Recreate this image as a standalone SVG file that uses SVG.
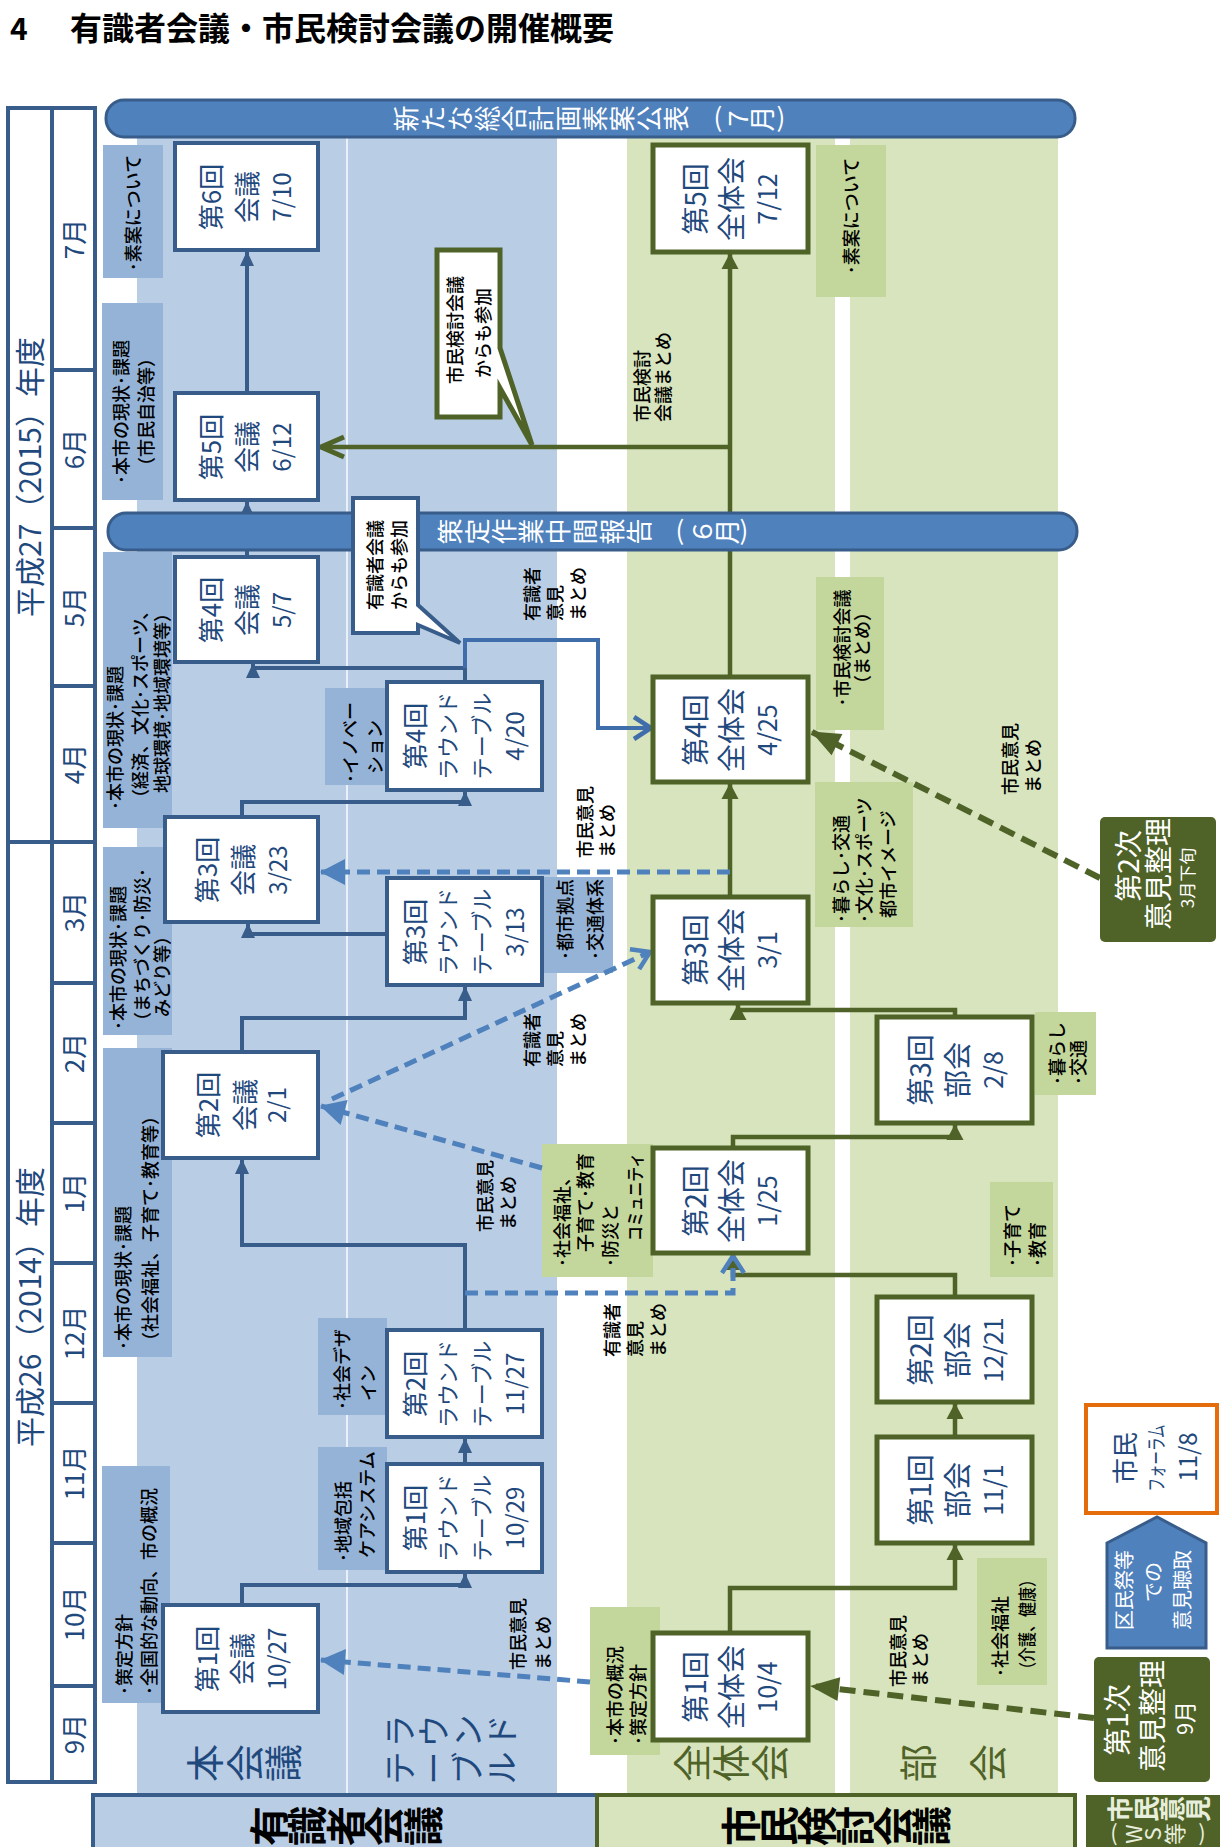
<svg xmlns="http://www.w3.org/2000/svg" width="1220" height="1847" viewBox="0 0 1220 1847">
<defs>
<style>
text{font-family:"Noto Sans CJK JP","Noto Sans",sans-serif;}
.nb{fill:#fff;stroke:#385D8A;stroke-width:4}
.ng{fill:#fff;stroke:#4F6228;stroke-width:5}
.tb{fill:#95B3D7}
.tg{fill:#C3D69B}
.nt{fill:#1F497D;font-size:26px;text-anchor:middle}
.zt{fill:#1F497D;font-size:28px;text-anchor:middle}
.lab{fill:#000;font-size:18px;font-weight:500}
.mid{text-anchor:middle}
.end{text-anchor:end}
.sb{fill:none;stroke:#385D8A;stroke-width:4}
.so{fill:none;stroke:#4F6228;stroke-width:4.5}
.db{fill:none;stroke:#4F81BD;stroke-width:5;stroke-dasharray:13 7}
.do{fill:none;stroke:#4F6228;stroke-width:6;stroke-dasharray:16 8}
.bar{fill:#4F81BD;stroke:#385D8A;stroke-width:3}
.wt{fill:#fff}
.yl{fill:none;stroke:#385D8A;stroke-width:4}
</style>
<marker id="aB" markerUnits="userSpaceOnUse" markerWidth="16" markerHeight="16" refX="14" refY="8" orient="auto" overflow="visible"><path d="M0,1 L15,8 L0,15 Z" fill="#385D8A"/></marker>
<marker id="aO" markerUnits="userSpaceOnUse" markerWidth="17" markerHeight="18" refX="15" refY="9" orient="auto" overflow="visible"><path d="M0,0.5 L16,9 L0,17.5 Z" fill="#4F6228"/></marker>
<marker id="tB" markerUnits="userSpaceOnUse" markerWidth="26" markerHeight="26" refX="24" refY="13" orient="auto" overflow="visible"><path d="M0,0 L25,13 L0,26 Z" fill="#4F81BD"/></marker>
<marker id="tO" markerUnits="userSpaceOnUse" markerWidth="30" markerHeight="26" refX="28" refY="13" orient="auto" overflow="visible"><path d="M0,1 L29,13 L0,25 Z" fill="#4F6228"/></marker>
<marker id="cB" markerUnits="userSpaceOnUse" markerWidth="24" markerHeight="26" refX="20" refY="13" orient="auto" overflow="visible"><path d="M3,2 L20,13 L3,24" fill="none" stroke="#4F81BD" stroke-width="4.5"/></marker>
<marker id="cB2" markerUnits="userSpaceOnUse" markerWidth="24" markerHeight="26" refX="20" refY="13" orient="auto" overflow="visible"><path d="M3,2 L20,13 L3,24" fill="none" stroke="#3F6EAA" stroke-width="4.5"/></marker>
<marker id="cO" markerUnits="userSpaceOnUse" markerWidth="30" markerHeight="26" refX="26" refY="13" orient="auto" overflow="visible"><path d="M3,3 L26,13 L3,23" fill="none" stroke="#4F6228" stroke-width="5"/></marker>
</defs>
<rect x="0" y="0" width="1220" height="1847" fill="#fff"/>

<!-- title -->
<text x="10" y="40" font-size="30" font-weight="bold" fill="#000">4</text>
<text x="70" y="40" font-size="32" font-weight="bold" fill="#000">有識者会議・市民検討会議の開催概要</text>

<!-- lane backgrounds -->
<g id="lanes">
<rect x="137" y="110" width="420" height="1683" fill="#B9CDE5"/>
<line x1="347" y1="137" x2="347" y2="1793" stroke="#fff" stroke-opacity="0.7" stroke-width="2"/>
<rect x="627" y="110" width="208" height="1683" fill="#D7E4BD"/>
<rect x="850" y="110" width="208" height="1683" fill="#D7E4BD"/>
</g>

<!-- year / month header -->
<g id="calendar">
<rect x="8" y="108" width="87" height="1674" fill="#fff" class="yl"/>
<line class="yl" x1="52" y1="108" x2="52" y2="1782"/>
<line class="yl" x1="8" y1="842" x2="95" y2="842"/>
<path class="yl" d="M52,370 H95 M52,528 H95 M52,686 H95 M52,983 H95 M52,1123 H95 M52,1263 H95 M52,1403 H95 M52,1543 H95 M52,1686 H95"/>
<text transform="rotate(-90)" x="-477" y="41" font-size="30" fill="#1F497D" text-anchor="middle">平成27（2015）年度</text>
<text transform="rotate(-90)" x="-1307" y="41" font-size="30" fill="#1F497D" text-anchor="middle">平成26（2014）年度</text>
<g font-size="26" fill="#1F497D" text-anchor="middle">
<text transform="rotate(-90)" x="-239" y="84">7月</text>
<text transform="rotate(-90)" x="-449" y="84">6月</text>
<text transform="rotate(-90)" x="-607" y="84">5月</text>
<text transform="rotate(-90)" x="-764" y="84">4月</text>
<text transform="rotate(-90)" x="-912" y="84">3月</text>
<text transform="rotate(-90)" x="-1053" y="84">2月</text>
<text transform="rotate(-90)" x="-1193" y="84">1月</text>
<text transform="rotate(-90)" x="-1333" y="84">12月</text>
<text transform="rotate(-90)" x="-1473" y="84">11月</text>
<text transform="rotate(-90)" x="-1614" y="84">10月</text>
<text transform="rotate(-90)" x="-1734" y="84">9月</text>
</g>
</g>

<!-- topic boxes -->
<g id="topics">
<g id="tp-hon6"><rect class="tb" x="103" y="145" width="60" height="133"/>
<text class="lab mid" transform="rotate(-90)" x="-213" y="140">･素案について</text></g>
<g id="tp-hon5"><rect class="tb" x="102" y="303" width="61" height="197"/>
<text class="lab mid" transform="rotate(-90)"><tspan x="-412" y="128">･本市の現状･課題</tspan><tspan x="-412" y="153">（市民自治等）</tspan></text></g>
<g id="tp-hon4"><rect class="tb" x="103" y="552" width="69" height="276"/>
<text class="lab" font-size="17.5" transform="rotate(-90)"><tspan x="-810" y="122">･本市の現状･課題</tspan><tspan x="-807" y="147">（経済、文化･スポーツ、</tspan><tspan x="-793" y="169">地球環境･地域環境等）</tspan></text></g>
<g id="tp-hon3"><rect class="tb" x="103" y="847" width="69" height="188"/>
<text class="lab" font-size="17.5" transform="rotate(-90)"><tspan x="-1030" y="125">･本市の現状･課題</tspan><tspan x="-1030" y="149">（まちづくり･防災･</tspan><tspan x="-1017" y="169">みどり等）</tspan></text></g>
<g id="tp-hon2"><rect class="tb" x="103" y="1048" width="69" height="309"/>
<text class="lab" transform="rotate(-90)"><tspan x="-1350" y="130">･本市の現状･課題</tspan><tspan x="-1350" y="157">（社会福祉、子育て･教育等）</tspan></text></g>
<g id="tp-hon1"><rect class="tb" x="102" y="1466" width="68" height="237"/>
<text class="lab" transform="rotate(-90)"><tspan x="-1695" y="131">･策定方針</tspan><tspan x="-1695" y="156">･全国的な動向、市の概況</tspan></text></g>
<g id="tp-rt4"><rect class="tb" x="325" y="688" width="62" height="97"/>
<text class="lab" transform="rotate(-90)"><tspan x="-783" y="357">･イノベー</tspan><tspan x="-774" y="382">ション</tspan></text></g>
<g id="tp-rt3"><rect class="tb" x="543" y="877" width="70" height="96"/>
<text class="lab" transform="rotate(-90)"><tspan x="-960" y="572">･都市拠点</tspan><tspan x="-960" y="602">･交通体系</tspan></text></g>
<g id="tp-rt2"><rect class="tb" x="318" y="1318" width="69" height="97"/>
<text class="lab" transform="rotate(-90)"><tspan x="-1410" y="349">･社会デザ</tspan><tspan x="-1401" y="375">イン</tspan></text></g>
<g id="tp-rt1"><rect class="tb" x="318" y="1447" width="69" height="123"/>
<text class="lab" transform="rotate(-90)"><tspan x="-1562" y="350">･地域包括</tspan><tspan x="-1558" y="374">ケアシステム</tspan></text></g>
<g id="tp-zen5"><rect class="tg" x="816" y="145" width="70" height="152"/>
<text class="lab mid" transform="rotate(-90)" x="-216" y="858">･素案について</text></g>
<g id="tp-zen4"><rect class="tg" x="816" y="577" width="68" height="153"/>
<text class="lab mid" transform="rotate(-90)"><tspan x="-648" y="849">･市民検討会議</tspan><tspan x="-648" y="869">（まとめ）</tspan></text></g>
<g id="tp-zen3"><rect class="tg" x="815" y="782" width="98" height="145"/>
<text class="lab" transform="rotate(-90)"><tspan x="-923" y="848">･暮らし･交通</tspan><tspan x="-923" y="871">･文化･スポーツ</tspan><tspan x="-918" y="895">都市イメージ</tspan></text></g>
<g id="tp-bu3"><rect class="tg" x="1035" y="1012" width="61" height="83"/>
<text class="lab" transform="rotate(-90)"><tspan x="-1085" y="1064">･暮らし</tspan><tspan x="-1085" y="1085">･交通</tspan></text></g>
<g id="tp-bu2"><rect class="tg" x="990" y="1182" width="63" height="95"/>
<text class="lab" transform="rotate(-90)"><tspan x="-1267" y="1019">･子育て</tspan><tspan x="-1267" y="1044">･教育</tspan></text></g>
<g id="tp-bu1"><rect class="tg" x="977" y="1558" width="70" height="127"/>
<text class="lab" transform="rotate(-90)"><tspan x="-1677" y="1007">･社会福祉</tspan><tspan x="-1677" y="1034" textLength="105" lengthAdjust="spacingAndGlyphs">（介護、健康）</tspan></text></g>
<g id="tp-zen2"><rect class="tg" x="542" y="1144" width="111" height="133"/>
<text class="lab" transform="rotate(-90)"><tspan x="-1267" y="569">･社会福祉、</tspan><tspan x="-1153" y="592" text-anchor="end">子育て･教育</tspan><tspan x="-1267" y="617">･防災と</tspan><tspan x="-1153" y="642" text-anchor="end" textLength="88" lengthAdjust="spacingAndGlyphs">コミュニティ</tspan></text></g>
<g id="tp-zen1"><rect class="tg" x="590" y="1607" width="70" height="148"/>
<text class="lab" transform="rotate(-90)"><tspan x="-1745" y="622">･本市の概況</tspan><tspan x="-1745" y="645">･策定方針</tspan></text></g>
</g>

<!-- connectors -->
<g id="connectors">
<path class="sb" d="M247,393 V252" marker-end="url(#aB)"/>
<path class="sb" d="M247,555 V502" marker-end="url(#aB)"/>
<path class="sb" d="M465,680 V668 H253 V664" marker-end="url(#aB)"/>
<path d="M465,668 V640 H598 V728 H651" fill="none" stroke="#3F6EAA" stroke-width="4" marker-end="url(#cB2)"/>
<path class="sb" d="M242,815 V802 H465 V792" marker-end="url(#aB)"/>
<path class="sb" d="M387,934 H248 V924" marker-end="url(#aB)"/>
<path class="sb" d="M242,1050 V1018 H465 V987" marker-end="url(#aB)"/>
<path class="sb" d="M465,1328 V1245 H242 V1160" marker-end="url(#aB)"/>
<path class="sb" d="M465,1462 V1439" marker-end="url(#aB)"/>
<path class="sb" d="M242,1603 V1585 H465 V1574" marker-end="url(#aB)"/>

<path class="so" d="M730,675 V254" marker-end="url(#aO)"/>
<path class="so" d="M730,447 H321" marker-end="url(#cO)"/>
<path class="so" d="M730,895 V784" marker-end="url(#aO)"/>
<path class="so" d="M733,1146 V1137 H955 V1125" marker-end="url(#aO)"/>
<path class="so" d="M955,1015 V1010 H738 V1005" marker-end="url(#aO)"/>
<path class="so" d="M955,1295 V1275 H733 V1255" marker-end="url(#aO)"/>
<path class="so" d="M955,1435 V1404" marker-end="url(#aO)"/>
<path class="so" d="M730,1631 V1588 H955 V1545" marker-end="url(#aO)"/>

<path class="db" d="M590,1682 L321,1660" marker-end="url(#tB)"/>
<path class="db" d="M542,1168 L321,1106" marker-end="url(#tB)"/>
<path class="db" d="M332,1099 L650,952" marker-end="url(#cB)"/>
<path class="db" d="M730,872 H321" marker-end="url(#tB)"/>
<path class="db" d="M465,1293 H733 V1256" marker-end="url(#cB)"/>

<path class="do" d="M1100,878 L812,732" marker-end="url(#tO)"/>
<path class="do" d="M1094,1718 L811,1686" marker-end="url(#tO)"/>

<g class="lab">
<text transform="rotate(-90)"><tspan x="-1670" y="525">市民意見</tspan><tspan x="-1670" y="550">まとめ</tspan></text>
<text transform="rotate(-90)"><tspan x="-1232" y="492">市民意見</tspan><tspan x="-1230" y="515">まとめ</tspan></text>
<text transform="rotate(-90)"><tspan x="-1067" y="539">有識者</tspan><tspan x="-1067" y="562">意見</tspan><tspan x="-1067" y="585">まとめ</tspan></text>
<text transform="rotate(-90)"><tspan x="-1357" y="619">有識者</tspan><tspan x="-1357" y="642">意見</tspan><tspan x="-1357" y="665">まとめ</tspan></text>
<text transform="rotate(-90)"><tspan x="-621" y="539">有識者</tspan><tspan x="-621" y="562">意見</tspan><tspan x="-621" y="585">まとめ</tspan></text>
<text transform="rotate(-90)"><tspan x="-858" y="592">市民意見</tspan><tspan x="-858" y="614">まとめ</tspan></text>
<text transform="rotate(-90)"><tspan x="-422" y="649">市民検討</tspan><tspan x="-422" y="670">会議まとめ</tspan></text>
<text transform="rotate(-90)"><tspan x="-795" y="1017">市民意見</tspan><tspan x="-793" y="1040">まとめ</tspan></text>
<text transform="rotate(-90)"><tspan x="-1687" y="905">市民意見</tspan><tspan x="-1687" y="927">まとめ</tspan></text>
</g>
</g>

<!-- nodes: 本会議 -->
<g id="hon6"><rect class="nb" x="175" y="143" width="143" height="107"/>
<text class="nt" transform="rotate(-90)"><tspan x="-197" y="221">第6回</tspan><tspan x="-197" y="257">会議</tspan><tspan x="-197" y="291" font-size="24">7/10</tspan></text></g>
<g id="hon5"><rect class="nb" x="175" y="393" width="143" height="107"/>
<text class="nt" transform="rotate(-90)"><tspan x="-447" y="221">第5回</tspan><tspan x="-447" y="257">会議</tspan><tspan x="-447" y="291" font-size="24">6/12</tspan></text></g>
<g id="hon4"><rect class="nb" x="175" y="557" width="143" height="105"/>
<text class="nt" transform="rotate(-90)"><tspan x="-610" y="221">第4回</tspan><tspan x="-610" y="257">会議</tspan><tspan x="-610" y="291" font-size="24">5/7</tspan></text></g>
<g id="hon3"><rect class="nb" x="165" y="817" width="153" height="105"/>
<text class="nt" transform="rotate(-90)"><tspan x="-870" y="217">第3回</tspan><tspan x="-870" y="253">会議</tspan><tspan x="-870" y="287" font-size="24">3/23</tspan></text></g>
<g id="hon2"><rect class="nb" x="163" y="1052" width="155" height="106"/>
<text class="nt" transform="rotate(-90)"><tspan x="-1105" y="218">第2回</tspan><tspan x="-1105" y="255">会議</tspan><tspan x="-1105" y="286" font-size="24">2/1</tspan></text></g>
<g id="hon1"><rect class="nb" x="163" y="1605" width="155" height="107"/>
<text class="nt" transform="rotate(-90)"><tspan x="-1659" y="217">第1回</tspan><tspan x="-1659" y="252">会議</tspan><tspan x="-1659" y="286" font-size="24">10/27</tspan></text></g>

<!-- nodes: ラウンドテーブル -->
<g id="rt4"><rect class="nb" x="387" y="682" width="155" height="108"/>
<text class="nt" transform="rotate(-90)"><tspan x="-736" y="425">第4回</tspan><tspan x="-736" y="456" font-size="22">ラウンド</tspan><tspan x="-736" y="490" font-size="22">テーブル</tspan><tspan x="-736" y="524" font-size="24">4/20</tspan></text></g>
<g id="rt3"><rect class="nb" x="387" y="878" width="155" height="107"/>
<text class="nt" transform="rotate(-90)"><tspan x="-932" y="425">第3回</tspan><tspan x="-932" y="456" font-size="22">ラウンド</tspan><tspan x="-932" y="490" font-size="22">テーブル</tspan><tspan x="-932" y="524" font-size="24">3/13</tspan></text></g>
<g id="rt2"><rect class="nb" x="387" y="1330" width="155" height="107"/>
<text class="nt" transform="rotate(-90)"><tspan x="-1384" y="425">第2回</tspan><tspan x="-1384" y="456" font-size="22">ラウンド</tspan><tspan x="-1384" y="490" font-size="22">テーブル</tspan><tspan x="-1384" y="524" font-size="24">11/27</tspan></text></g>
<g id="rt1"><rect class="nb" x="387" y="1464" width="155" height="108"/>
<text class="nt" transform="rotate(-90)"><tspan x="-1518" y="425">第1回</tspan><tspan x="-1518" y="456" font-size="22">ラウンド</tspan><tspan x="-1518" y="490" font-size="22">テーブル</tspan><tspan x="-1518" y="524" font-size="24">10/29</tspan></text></g>

<!-- nodes: 全体会 -->
<g id="zen5"><rect class="ng" x="653" y="145" width="155" height="107"/>
<text class="zt" transform="rotate(-90)"><tspan x="-199" y="706">第5回</tspan><tspan x="-199" y="742">全体会</tspan><tspan x="-199" y="777" font-size="25">7/12</tspan></text></g>
<g id="zen4"><rect class="ng" x="653" y="677" width="155" height="105"/>
<text class="zt" transform="rotate(-90)"><tspan x="-730" y="706">第4回</tspan><tspan x="-730" y="742">全体会</tspan><tspan x="-730" y="777" font-size="25">4/25</tspan></text></g>
<g id="zen3"><rect class="ng" x="653" y="897" width="155" height="106"/>
<text class="zt" transform="rotate(-90)"><tspan x="-950" y="706">第3回</tspan><tspan x="-950" y="742">全体会</tspan><tspan x="-950" y="777" font-size="25">3/1</tspan></text></g>
<g id="zen2"><rect class="ng" x="653" y="1148" width="155" height="105"/>
<text class="zt" transform="rotate(-90)"><tspan x="-1201" y="706">第2回</tspan><tspan x="-1201" y="742">全体会</tspan><tspan x="-1201" y="777" font-size="25">1/25</tspan></text></g>
<g id="zen1"><rect class="ng" x="653" y="1633" width="155" height="107"/>
<text class="zt" transform="rotate(-90)"><tspan x="-1687" y="706">第1回</tspan><tspan x="-1687" y="742">全体会</tspan><tspan x="-1687" y="777" font-size="25">10/4</tspan></text></g>

<!-- nodes: 部会 -->
<g id="bu3"><rect class="ng" x="877" y="1017" width="155" height="106"/>
<text class="zt" transform="rotate(-90)"><tspan x="-1070" y="931">第3回</tspan><tspan x="-1070" y="968">部会</tspan><tspan x="-1070" y="1003" font-size="25">2/8</tspan></text></g>
<g id="bu2"><rect class="ng" x="877" y="1297" width="155" height="105"/>
<text class="zt" transform="rotate(-90)"><tspan x="-1350" y="931">第2回</tspan><tspan x="-1350" y="968">部会</tspan><tspan x="-1350" y="1003" font-size="25">12/21</tspan></text></g>
<g id="bu1"><rect class="ng" x="877" y="1437" width="155" height="106"/>
<text class="zt" transform="rotate(-90)"><tspan x="-1490" y="931">第1回</tspan><tspan x="-1490" y="968">部会</tspan><tspan x="-1490" y="1003" font-size="25">11/1</tspan></text></g>

<!-- right side -->
<g id="forum"><rect x="1086" y="1405" width="131" height="108" fill="#fff" stroke="#E46C0A" stroke-width="4"/>
<text class="nt" transform="rotate(-90)"><tspan x="-1458" y="1135">市民</tspan><tspan x="-1458" y="1164" font-size="20" textLength="67" lengthAdjust="spacingAndGlyphs">フォーラム</tspan><tspan x="-1457" y="1197" font-size="24">11/8</tspan></text></g>
<g id="kumin"><polygon points="1107,1543 1157,1517 1206,1543 1206,1648 1107,1648" fill="#4F81BD" stroke="#385D8A" stroke-width="3"/>
<text class="wt mid" font-size="20" transform="rotate(-90)"><tspan x="-1590" y="1132">区民祭等</tspan><tspan x="-1582" y="1161">での</tspan><tspan x="-1590" y="1190">意見聴取</tspan></text></g>
<g id="iken1"><rect x="1094" y="1657" width="116" height="125" rx="5" fill="#4F6228"/>
<text class="wt mid" font-size="28" transform="rotate(-90)"><tspan x="-1720" y="1128">第1次</tspan><tspan x="-1716" y="1163">意見整理</tspan><tspan x="-1718" y="1193" font-size="22">9月</tspan></text></g>
<g id="iken2"><rect x="1100" y="817" width="116" height="125" rx="5" fill="#4F6228"/>
<text class="wt mid" font-size="28" transform="rotate(-90)"><tspan x="-866" y="1139">第2次</tspan><tspan x="-874" y="1169">意見整理</tspan><tspan x="-878" y="1194" font-size="17">3月下旬</tspan></text></g>

<!-- bars -->
<g id="bar-top"><rect class="bar" x="106" y="100" width="969" height="37" rx="18"/>
<text class="wt mid" font-size="26" transform="rotate(-90)" x="-118.5 -118.5 -118.5 -118.5 -118.5 -118.5 -118.5 -118.5 -118.5 -118.5 -118.5 -118.5 -118.5" y="416 443 470 497 524 551 578 605 632 659 686 748 772">新たな総合計画素案公表７月</text>
<text class="wt mid" font-size="26" x="718" y="127">(</text><text class="wt mid" font-size="26" x="781" y="127">)</text></g>
<g id="bar-mid"><rect class="bar" x="108" y="513" width="969" height="37" rx="18"/>
<text class="wt mid" font-size="26" transform="rotate(-90)" x="-531.5 -531.5 -531.5 -531.5 -531.5 -531.5 -531.5 -531.5 -531.5 -531.5" y="460 487 514 541 568 595 622 649 712 737">策定作業中間報告６月</text>
<text class="wt mid" font-size="26" x="680" y="540">(</text><text class="wt mid" font-size="26" x="744" y="540">)</text></g>

<!-- callouts -->
<g id="callout-yushiki"><path d="M353,498 H418 V605 L460,643 L418,625 V633 H353 Z" fill="#fff" stroke="#385D8A" stroke-width="4" stroke-linejoin="miter"/>
<text class="lab mid" transform="rotate(-90)"><tspan x="-565" y="382">有識者会議</tspan><tspan x="-565" y="406">からも参加</tspan></text></g>
<g id="callout-shimin"><path d="M437,250 H500 V348 L532,445 L500,388 V417 H437 Z" fill="#fff" stroke="#4F6228" stroke-width="5"/>
<text class="lab mid" transform="rotate(-90)"><tspan x="-330" y="462">市民検討会議</tspan><tspan x="-333" y="490">からも参加</tspan></text></g>

<!-- lane labels -->
<g id="lane-labels" text-anchor="middle">
<text transform="rotate(-90)" font-size="38" fill="#1F497D" x="-1763 -1763 -1763" y="219 259 297">本会議</text>
<text transform="rotate(-90)" font-size="33" fill="#1F497D" x="-1731 -1731 -1731 -1731" y="412 446 480 514">ラウンド</text>
<text transform="rotate(-90)" font-size="33" fill="#1F497D" x="-1768 -1768 -1768 -1768" y="412 446 480 514">テーブル</text>
<text transform="rotate(-90)" font-size="38" fill="#4F6228" x="-1763 -1763 -1763" y="706 745 784">全体会</text>
<text transform="rotate(-90)" font-size="38" fill="#4F6228" x="-1763 -1763" y="932 1002">部会</text>
</g>

<!-- bottom group boxes -->
<g id="group-yushiki"><rect x="93" y="1795" width="504" height="60" fill="#B9CDE5" stroke="#385D8A" stroke-width="4"/>
<text transform="rotate(-90)" font-size="40" font-weight="bold" fill="#000" text-anchor="middle" x="-1826 -1826 -1826 -1826 -1826" y="284 322 361 399 438">有識者会議</text></g>
<g id="group-shimin"><rect x="597" y="1795" width="478" height="60" fill="#D7E4BD" stroke="#4F6228" stroke-width="4"/>
<text transform="rotate(-90)" font-size="40" font-weight="bold" fill="#000" text-anchor="middle" x="-1826 -1826 -1826 -1826 -1826 -1826" y="756 794 832 870 908 946">市民検討会議</text></g>
<g id="group-iken"><rect x="1086" y="1795" width="140" height="60" fill="#4F6228"/>
<text transform="rotate(-90)" font-size="26" font-weight="bold" fill="#E8EEDC" text-anchor="middle" x="-1809 -1809 -1809 -1809" y="1130 1156 1182 1208">市民意見</text>
<text transform="rotate(-90)" font-size="22" fill="#E8EEDC" text-anchor="middle" x="-1834 -1834 -1834" y="1142 1161 1183">WS等</text>
<text font-size="22" fill="#E8EEDC" text-anchor="middle" x="1114" y="1841">(</text>
<text font-size="22" fill="#E8EEDC" text-anchor="middle" x="1202" y="1841">)</text>
</g>
</svg>
